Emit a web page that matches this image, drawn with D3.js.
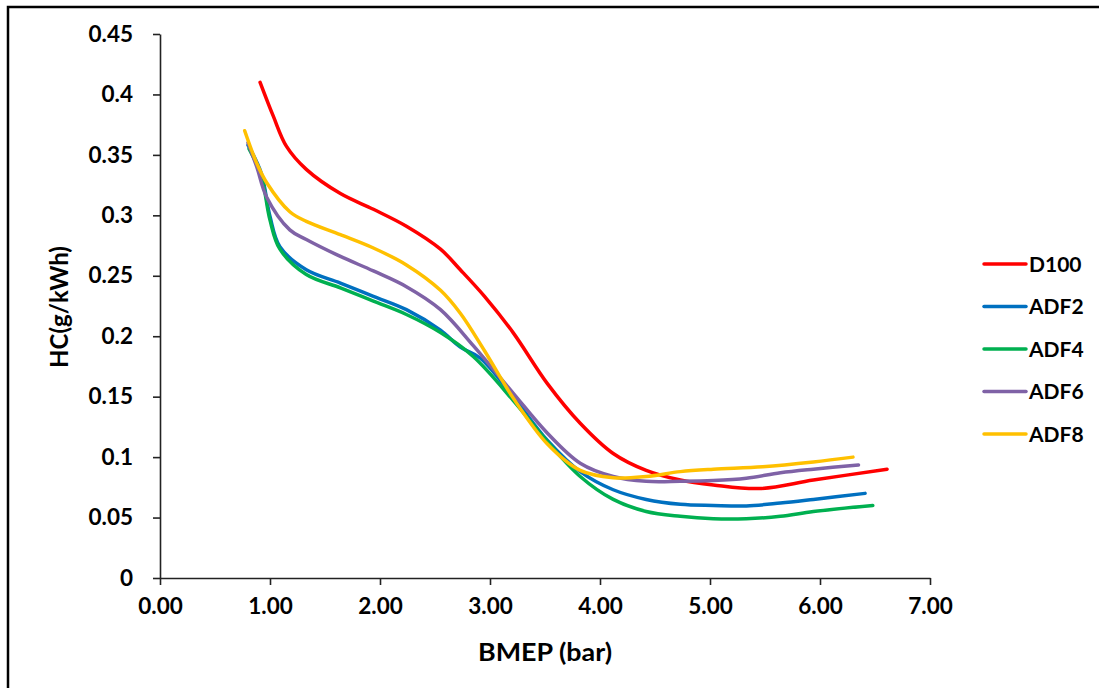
<!DOCTYPE html>
<html>
<head>
<meta charset="utf-8">
<script src="https://cdn.jsdelivr.net/npm/d3@7"></script>
<style>
  body { margin: 0; background: #fff; }
  svg text { font-family: Lato, "Open Sans", sans-serif; font-weight: bold; fill: #000; }
</style>
</head>
<body>
<svg id="chart" width="1099" height="688"></svg>
<script>
// tick labels
let xTicks = [0, 1, 2, 3, 4, 5, 6, 7];
let yTicks = [0, 0.05, 0.1, 0.15, 0.2, 0.25, 0.3, 0.35, 0.4, 0.45];

// series
let seriesNames = ["D100", "ADF2", "ADF4", "ADF6", "ADF8"];
let seriesColors = ["#ff0000", "#0070c0", "#00b050", "#7f62a6", "#ffc000"];

let d100X = [0.91, 1.03, 1.15, 1.33, 1.64, 1.94, 2.24, 2.55, 2.73, 2.95, 3.21, 3.52, 3.82, 4.12, 4.42, 4.73, 5.03, 5.45, 5.94, 6.61];
let d100Y = [0.41, 0.382, 0.357, 0.338, 0.318, 0.305, 0.291, 0.272, 0.255, 0.233, 0.203, 0.161, 0.128, 0.103, 0.089, 0.081, 0.077, 0.074, 0.081, 0.090];

let adf2X = [0.80, 0.92, 1.00, 1.09, 1.33, 1.64, 1.94, 2.24, 2.55, 2.73, 2.91, 3.21, 3.52, 3.82, 4.12, 4.42, 4.73, 5.03, 5.33, 5.64, 5.94, 6.41];
let adf2Y = [0.358, 0.335, 0.299, 0.274, 0.255, 0.244, 0.233, 0.222, 0.205, 0.191, 0.182, 0.150, 0.114, 0.088, 0.073, 0.065, 0.061, 0.060, 0.0596, 0.062, 0.065, 0.070];

let adf4X = [0.81, 0.92, 1.00, 1.09, 1.33, 1.64, 1.94, 2.24, 2.55, 2.85, 3.21, 3.52, 3.82, 4.12, 4.42, 4.73, 5.03, 5.33, 5.64, 5.94, 6.48];
let adf4Y = [0.355, 0.333, 0.296, 0.272, 0.251, 0.240, 0.229, 0.218, 0.203, 0.183, 0.147, 0.113, 0.084, 0.065, 0.055, 0.051, 0.049, 0.049, 0.051, 0.055, 0.060];

let adf6X = [0.80, 0.88, 0.97, 1.18, 1.33, 1.64, 1.94, 2.24, 2.55, 2.85, 3.21, 3.52, 3.82, 4.12, 4.42, 4.73, 5.03, 5.33, 5.64, 5.94, 6.35];
let adf6Y = [0.36, 0.340, 0.315, 0.288, 0.280, 0.266, 0.254, 0.241, 0.222, 0.192, 0.153, 0.120, 0.095, 0.084, 0.080, 0.080, 0.0806, 0.0825, 0.087, 0.090, 0.0935];

let adf8X = [0.77, 0.88, 0.97, 1.18, 1.33, 1.64, 1.94, 2.24, 2.55, 2.73, 2.95, 3.21, 3.52, 3.82, 4.12, 4.42, 4.73, 5.03, 5.48, 5.94, 6.30];
let adf8Y = [0.37, 0.343, 0.327, 0.303, 0.295, 0.284, 0.273, 0.259, 0.238, 0.219, 0.188, 0.149, 0.111, 0.089, 0.083, 0.084, 0.088, 0.090, 0.092, 0.096, 0.100];

let allX = [d100X, adf2X, adf4X, adf6X, adf8X];
let allY = [d100Y, adf2Y, adf4Y, adf6Y, adf8Y];

let margin = {top: 34, right: 169, bottom: 110, left: 160};
let width = 1099 - margin.left - margin.right;
let height = 688 - margin.top - margin.bottom;

let svg = d3.select("#chart");

// outer frame (runs off the right and bottom edges)
svg.append("rect")
  .attr("x", 8).attr("y", 7)
  .attr("width", 1200).attr("height", 800)
  .attr("fill", "none")
  .attr("stroke", "#000")
  .attr("stroke-width", 2.5);

let g = svg.append("g").attr("transform", `translate(${margin.left},${margin.top})`);

let x = d3.scaleLinear().domain([0, 7]).range([0, width]);
let y = d3.scaleLinear().domain([0, 0.45]).range([height, 0]);

let xAxis = g.append("g")
  .attr("transform", `translate(0,${height})`)
  .call(d3.axisBottom(x).tickValues(xTicks).tickFormat(d3.format(".2f")).tickSizeInner(7).tickSizeOuter(0).tickPadding(13));

let yAxis = g.append("g")
  .call(d3.axisLeft(y).tickValues(yTicks).tickFormat(d => String(+d.toFixed(2))).tickSizeInner(7).tickSizeOuter(0).tickPadding(20));

[xAxis, yAxis].forEach(a => {
  a.select(".domain").attr("stroke", "#222").attr("stroke-width", 1.6);
  a.selectAll(".tick line").attr("stroke", "#222").attr("stroke-width", 1.6);
  a.selectAll(".tick text").style("font-size", "22.5px");
});

// axis titles
svg.append("text")
  .attr("x", 545).attr("y", 661)
  .attr("text-anchor", "middle")
  .attr("textLength", 134)
  .attr("lengthAdjust", "spacingAndGlyphs")
  .style("font-size", "24px")
  .text("BMEP (bar)");

svg.append("text")
  .attr("transform", "translate(68,307) rotate(-90)")
  .attr("text-anchor", "middle")
  .style("font-size", "24px")
  .text("HC(g/kWh)");

// lines, smoothed like the spreadsheet
let line = d3.line()
  .x(d => x(d[0]))
  .y(d => y(d[1]))
  .curve(d3.curveCatmullRom.alpha(0.5));

seriesNames.forEach((name, i) => {
  let pts = allX[i].map((v, j) => [v, allY[i][j]]);
  g.append("path")
    .datum(pts)
    .attr("fill", "none")
    .attr("stroke", seriesColors[i])
    .attr("stroke-width", 3.5)
    .attr("stroke-linecap", "round")
    .attr("stroke-linejoin", "round")
    .attr("d", line);
});

// legend
let legend = svg.append("g").attr("transform", "translate(984,264)");
seriesNames.forEach((name, i) => {
  let row = legend.append("g").attr("transform", `translate(0,${i * 42.5})`);
  row.append("line")
    .attr("x1", 0).attr("x2", 42)
    .attr("stroke", seriesColors[i])
    .attr("stroke-width", 3.5)
    .attr("stroke-linecap", "round");
  row.append("text")
    .attr("x", 45).attr("y", 7.5)
    .style("font-size", "21px")
    .text(name);
});
</script>
</body>
</html>
